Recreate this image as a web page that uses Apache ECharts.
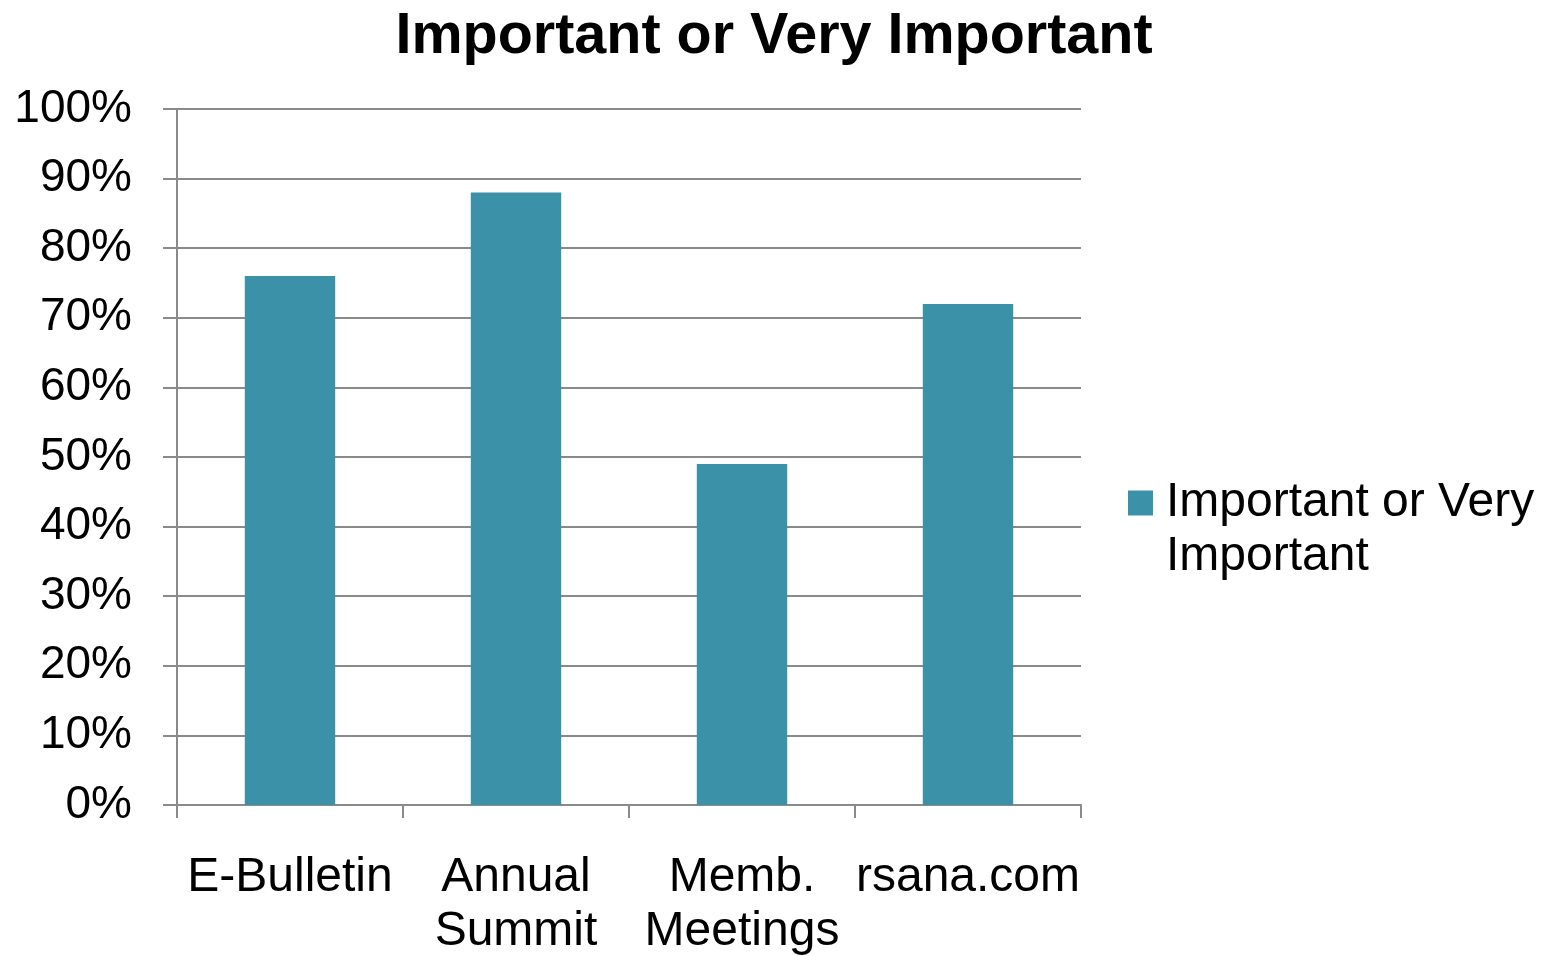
<!DOCTYPE html>
<html>
<head>
<meta charset="utf-8">
<script src="https://cdn.jsdelivr.net/npm/echarts@6/dist/echarts.min.js"></script>
<style>
html,body{margin:0;padding:0;background:#fff;}
#chart{width:1548px;height:956px;}
</style>
</head>
<body>
<div id="chart"></div>
<script>
const titleText = 'Important or Very Important';
const seriesName = 'Important or Very Important';
const legendLines = ['Important or Very', 'Important'];
const categories = ['E-Bulletin', 'Annual\nSummit', 'Memb.\nMeetings', 'rsana.com'];
const values = [76, 88, 49, 72];
const yTicks = { min: 0, max: 100, interval: 10 };

const FONT = '"Liberation Sans", Arial, sans-serif';
const chart = echarts.init(document.getElementById('chart'), null, { renderer: 'canvas' });
chart.setOption({
  animation: false,
  backgroundColor: '#ffffff',
  title: {
    text: titleText,
    left: 'center',
    top: 3,
    textStyle: { fontFamily: FONT, fontSize: 57.5, fontWeight: 'bold', color: '#000' }
  },
  legend: {
    orient: 'vertical',
    left: 1123,
    top: 417,
    icon: 'rect',
    itemWidth: 25,
    itemHeight: 25,
    formatter: function () { return '\n' + legendLines.join('\n'); },
    textStyle: { fontFamily: FONT, fontSize: 48, color: '#000', lineHeight: 54, padding: [0, 0, 0, 8] },
    data: [seriesName]
  },
  grid: { left: 177, right: 467, top: 109, bottom: 151, containLabel: false, outerBoundsMode: 'none' },
  xAxis: {
    type: 'category',
    data: categories,
    boundaryGap: true,
    axisLine: { show: true, lineStyle: { color: '#8a8a8a', width: 2 } },
    axisTick: { show: true, alignWithLabel: false, length: 13, lineStyle: { color: '#8a8a8a', width: 2 } },
    axisLabel: { fontFamily: FONT, fontSize: 48, color: '#000', lineHeight: 54, margin: 46, interval: 0 }
  },
  yAxis: {
    type: 'value',
    min: yTicks.min,
    max: yTicks.max,
    interval: yTicks.interval,
    axisLine: { show: true, lineStyle: { color: '#8a8a8a', width: 2 } },
    axisTick: { show: true, inside: false, length: 14, lineStyle: { color: '#8a8a8a', width: 2 } },
    splitLine: { show: true, lineStyle: { color: '#8a8a8a', width: 2 } },
    axisLabel: { fontFamily: FONT, fontSize: 46, color: '#000', margin: 45, formatter: '{value}%' }
  },
  series: [{
    name: seriesName,
    type: 'bar',
    data: values,
    barCategoryGap: '60%',
    itemStyle: { color: '#3a91a8' }
  }]
});
</script>
</body>
</html>
